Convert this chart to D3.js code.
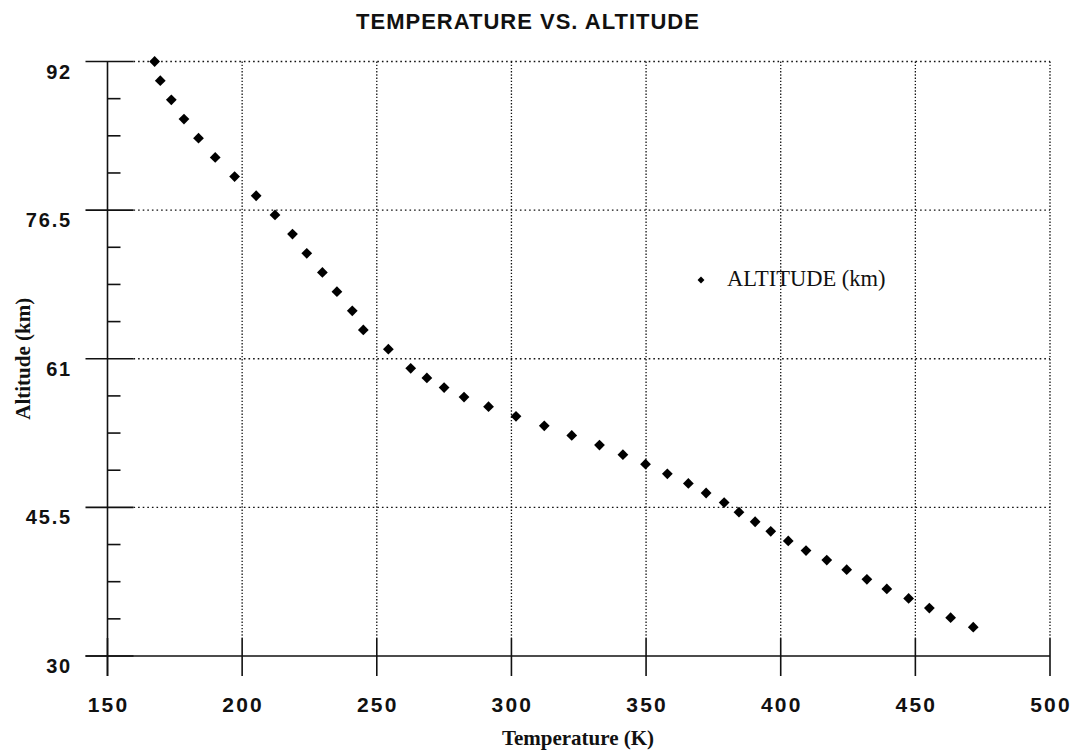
<!DOCTYPE html>
<html>
<head>
<meta charset="utf-8">
<script src="https://cdn.jsdelivr.net/npm/d3@7"></script>
<style>
  html, body { margin: 0; padding: 0; background: #fff; }
  svg { display: block; }
</style>
</head>
<body>
<svg id="chart" width="1078" height="755"></svg>
<script>
// ---- data ----
const temperature = [167.5, 169.6, 173.7, 178.4, 183.8, 190.0, 197.2, 205.2, 212.2, 218.7,
  224.0, 229.8, 235.2, 240.9, 245.0, 254.3, 262.6, 268.6, 275.0, 282.4,
  291.5, 301.7, 312.2, 322.4, 332.7, 341.4, 349.8, 357.9, 365.7, 372.3,
  379.0, 384.5, 390.5, 396.3, 402.8, 409.4, 417.1, 424.5, 432.0, 439.4,
  447.5, 455.2, 463.1, 471.5];
const altitude = [92, 90, 88, 86, 84, 82, 80, 78, 76, 74,
  72, 70, 68, 66, 64, 62, 60, 59, 58, 57,
  56, 55, 54, 53, 52, 51, 50, 49, 48, 47,
  46, 45, 44, 43, 42, 41, 40, 39, 38, 37,
  36, 35, 34, 33];
const xTicks = [150, 200, 250, 300, 350, 400, 450, 500];
const yTicks = [30, 45.5, 61, 76.5, 92];
const title = "TEMPERATURE VS. ALTITUDE";
const xTitle = "Temperature (K)";
const yTitle = "Altitude (km)";
const seriesName = "ALTITUDE (km)";

// ---- layout ----
const svg = d3.select("#chart");
const x = d3.scaleLinear().domain([150, 500]).range([107.5, 1050]);
const y = d3.scaleLinear().domain([30, 92]).range([656, 61.5]);
const ink = "#111";

// minor y ticks (4 subdivisions between major ticks)
const yMinor = [];
for (let i = 0; i < yTicks.length - 1; i++) {
  const step = (yTicks[i + 1] - yTicks[i]) / 4;
  for (let k = 1; k < 4; k++) yMinor.push(yTicks[i] + k * step);
}

// grid: dotted lines
const grid = svg.append("g");
grid.selectAll("line.hg").data(yTicks.filter(d => d !== 30)).join("line")
  .attr("class", "hg")
  .attr("x1", x(150) + 26).attr("x2", x(500))
  .attr("y1", d => y(d)).attr("y2", d => y(d))
  .attr("stroke", ink).attr("stroke-width", 1.3)
  .attr("stroke-dasharray", "1.6,3");
grid.selectAll("line.vg").data(xTicks.filter(d => d !== 150)).join("line")
  .attr("class", "vg")
  .attr("x1", d => x(d)).attr("x2", d => x(d))
  .attr("y1", y(92)).attr("y2", y(30) - 18)
  .attr("stroke", ink).attr("stroke-width", 1.3)
  .attr("stroke-dasharray", "1.4,1.8");

// axes (solid)
const axes = svg.append("g").attr("stroke", ink).attr("stroke-width", 1.6);
axes.append("line").attr("x1", x(150)).attr("x2", x(150))
  .attr("y1", y(92)).attr("y2", y(30) + 20);
axes.append("line").attr("x1", x(150) - 22).attr("x2", x(500))
  .attr("y1", y(30)).attr("y2", y(30));
// major y ticks (crossing)
axes.selectAll("line.ymaj").data(yTicks).join("line")
  .attr("class", "ymaj")
  .attr("x1", x(150) - 22).attr("x2", x(150) + 26)
  .attr("y1", d => y(d)).attr("y2", d => y(d));
// minor y ticks (inside)
axes.selectAll("line.ymin").data(yMinor).join("line")
  .attr("class", "ymin")
  .attr("x1", x(150)).attr("x2", x(150) + 13)
  .attr("y1", d => y(d)).attr("y2", d => y(d));
// x ticks (crossing)
axes.selectAll("line.xt").data(xTicks).join("line")
  .attr("class", "xt")
  .attr("x1", d => x(d)).attr("x2", d => x(d))
  .attr("y1", y(30) - 18).attr("y2", y(30) + 20);

// tick labels
svg.append("g").selectAll("text").data(yTicks).join("text")
  .attr("x", 72).attr("y", d => y(d) + 17)
  .attr("text-anchor", "end")
  .attr("font-family", "'Liberation Sans', Arial, sans-serif")
  .attr("font-weight", "bold").attr("font-size", 20)
  .attr("letter-spacing", 1.8)
  .attr("fill", ink)
  .text(d => d);
svg.append("g").selectAll("text").data(xTicks).join("text")
  .attr("x", d => x(d) + 1).attr("y", 712)
  .attr("text-anchor", "middle")
  .attr("font-family", "'Liberation Sans', Arial, sans-serif")
  .attr("font-weight", "bold").attr("font-size", 21)
  .attr("letter-spacing", 2.2)
  .attr("fill", ink)
  .text(d => d);

// titles
svg.append("text").attr("x", 528).attr("y", 29)
  .attr("text-anchor", "middle")
  .attr("font-family", "'Liberation Sans', Arial, sans-serif")
  .attr("font-weight", "bold").attr("font-size", 22)
  .attr("letter-spacing", 1)
  .attr("fill", ink).text(title);
svg.append("text").attr("x", 578).attr("y", 745)
  .attr("text-anchor", "middle")
  .attr("font-family", "'Liberation Serif', 'Times New Roman', serif")
  .attr("font-weight", "bold").attr("font-size", 21)
  .attr("fill", ink).text(xTitle);
svg.append("text")
  .attr("transform", `translate(30, ${y(61)}) rotate(-90)`)
  .attr("text-anchor", "middle")
  .attr("font-family", "'Liberation Serif', 'Times New Roman', serif")
  .attr("font-weight", "bold").attr("font-size", 21)
  .attr("fill", ink).text(yTitle);

// data points: diamonds
const diamond = d3.symbol().type(d3.symbolSquare).size(58);
svg.append("g").selectAll("path").data(temperature.map((t, i) => [t, altitude[i]])).join("path")
  .attr("transform", d => `translate(${x(d[0])},${y(d[1])}) rotate(45)`)
  .attr("d", diamond)
  .attr("fill", "#000");

// legend
const leg = svg.append("g").attr("transform", "translate(701, 280)");
leg.append("path").attr("d", d3.symbol().type(d3.symbolSquare).size(24))
  .attr("transform", "rotate(45)").attr("fill", "#000");
leg.append("text").attr("x", 26).attr("y", 6)
  .attr("font-family", "'Liberation Serif', 'Times New Roman', serif")
  .attr("font-size", 22.5)
  .attr("fill", ink).text(seriesName);
</script>
</body>
</html>
